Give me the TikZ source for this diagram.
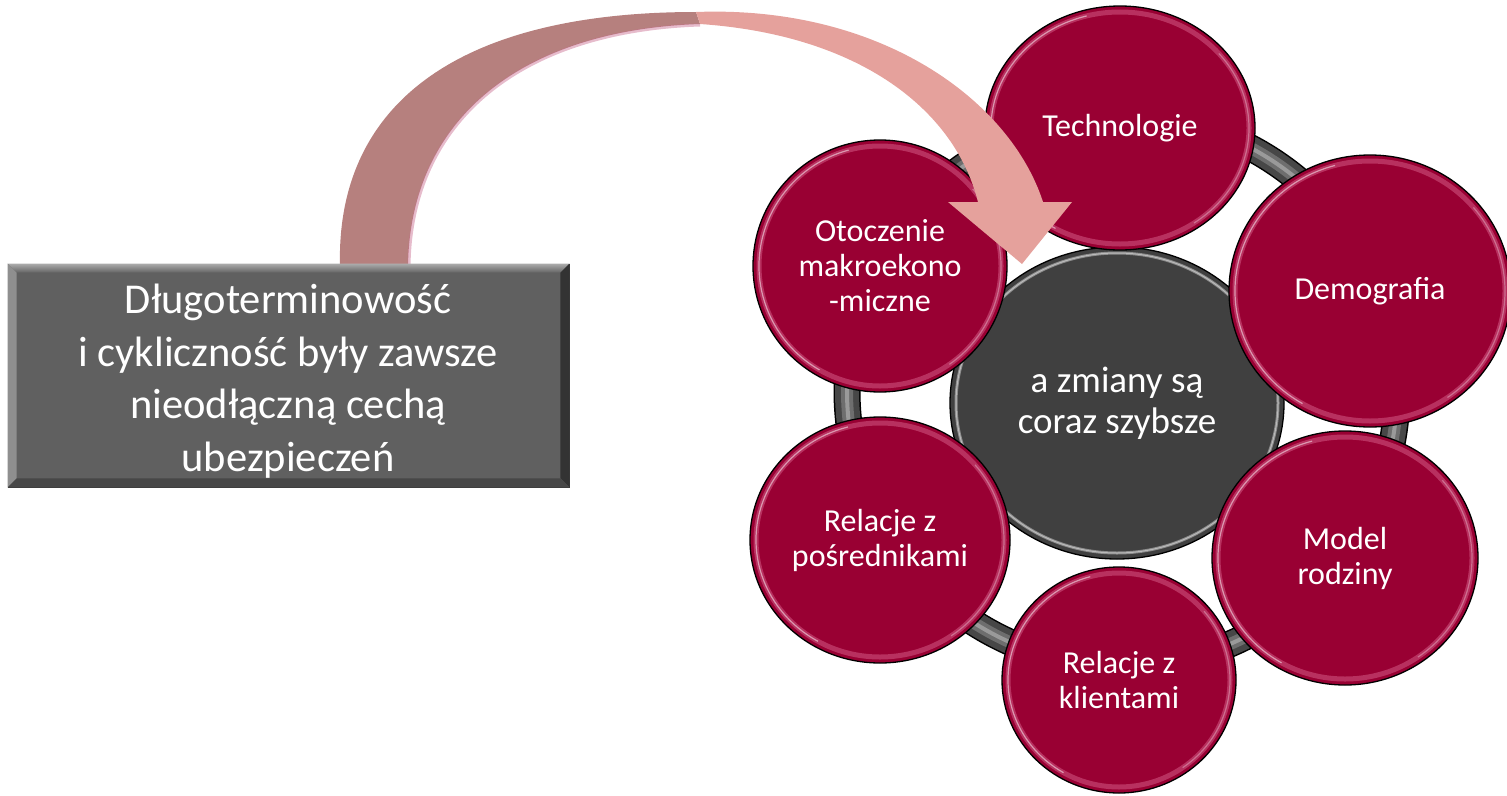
\documentclass[tikz,border=0pt]{standalone}
\usepackage{fontspec}
\setmainfont{Carlito}
\usetikzlibrary{shapes.geometric}
\definecolor{crim}{HTML}{990033}
\definecolor{hubgray}{HTML}{404040}
\definecolor{rimpink}{HTML}{E87AA3}
\definecolor{ringdark}{HTML}{474747}
\definecolor{ringmid}{HTML}{6E6E6E}
\definecolor{ringlight}{HTML}{9A9A9A}
\definecolor{boxgray}{HTML}{606060}
\definecolor{boxedge}{HTML}{3A3A3A}
\definecolor{banddark}{HTML}{B6807E}
\definecolor{bandlight}{HTML}{E5A19C}
\definecolor{bandglow}{HTML}{C86A8E}
\newcommand\myrims[3]{%
  \draw[rimglow] (#1.center) ellipse [x radius=#2pt, y radius=#3pt];
  \draw[rimshine] (#1.center) ++(105:#2pt and #3pt) arc[start angle=105, end angle=240, x radius=#2pt, y radius=#3pt];
  \draw[rimshine, opacity=.3] (#1.center) ++(-55:#2pt and #3pt) arc[start angle=-55, end angle=40, x radius=#2pt, y radius=#3pt];
}
\begin{document}
\begin{tikzpicture}[x=1pt,y=-1pt,
  bubble/.style={ellipse, draw=black, line width=1.3pt, fill=crim, text=white,
    align=center, inner sep=0pt, font=\fontsize{32}{35}\selectfont},
  hub/.style={ellipse, draw=black, line width=1.3pt, fill=hubgray, text=white,
    align=center, inner sep=0pt, font=\fontsize{37}{40.5}\selectfont},
  rimglow/.style={draw=rimpink, line width=5pt, opacity=0.4},
  rimshine/.style={draw=white, line width=1.2pt, opacity=0.5},
  boxtext/.style={text=white, align=center, inner sep=0pt, font=\fontsize{42.5}{52.5}\selectfont},
]
\useasboundingbox (0,0) rectangle (1507,795);

% ring behind the circles
\coordinate (rc) at (1122,391);
\draw[line width=27pt, black] (rc) circle[radius=275pt];
\draw[line width=24pt, ringdark] (rc) circle[radius=275pt];
\draw[line width=12pt, ringmid] (rc) circle[radius=275pt];
\draw[line width=4pt, ringlight] (rc) circle[radius=275pt];

% central circle
\node[hub, minimum width=334pt, minimum height=312pt] (hub) at (1117,403) {a zmiany są\\coraz szybsze};
\draw[draw=gray!75, line width=3pt, opacity=.8] (hub.center) ellipse [x radius=161pt, y radius=150pt];
\draw[draw=white, line width=1pt, opacity=.4] (hub.center) ellipse [x radius=161pt, y radius=150pt];

% outer circles
\node[bubble, minimum width=270pt, minimum height=244pt] (tech) at (1120,128) {Technologie};
\myrims{tech}{129}{116}
\node[bubble, minimum width=282pt, minimum height=272pt] (demo) at (1370,291) {Demografia};
\myrims{demo}{135}{130}
\node[bubble, minimum width=266pt, minimum height=254pt] (model) at (1345,558) {Model\\rodziny};
\myrims{model}{127}{121}
\node[bubble, minimum width=234pt, minimum height=226pt] (klient) at (1119,680) {Relacje z\\klientami};
\myrims{klient}{111}{107}
\node[bubble, minimum width=260pt, minimum height=246pt] (posr) at (880,540) {Relacje z\\pośrednikami};
\myrims{posr}{124}{117}
\node[bubble, minimum width=254pt, minimum height=252pt] (makro) at (880,266) {Otoczenie\\makroekono\\-miczne};
\myrims{makro}{121}{120}

% curved arrow
\fill[banddark] (340,266) .. controls (336,110) and (450,12) .. (696,12)
  -- (700,24) .. controls (520,30) and (410,120) .. (408,266) -- cycle;
\draw[bandglow, line width=3pt, opacity=.45] (700,25) .. controls (520,31) and (411,121) .. (409,266);
\fill[bandlight] (696,12) .. controls (880,5) and (1010,100) .. (1043,202)
  -- (1072,202) -- (1022,264) -- (948,202) -- (978,202)
  .. controls (955,110) and (860,35) .. (700,24) -- cycle;

% left box with bevel
\node[draw=boxedge, line width=0.8pt, fill=boxgray, minimum width=561pt, minimum height=223pt, inner sep=0pt] (src) at (288.5,375.5) {};
\shade[top color=gray!65, bottom color=gray!95!white!75!black] (src.north west) -- (src.north east)
  -- ([shift={(-9pt,-9pt)}]src.north east) -- ([shift={(9pt,-9pt)}]src.north west) -- cycle;
\fill[gray!90!black!80] (src.north west) -- ([shift={(9pt,-9pt)}]src.north west)
  -- ([shift={(9pt,9pt)}]src.south west) -- (src.south west) -- cycle;
\fill[black!80] (src.north east) -- ([shift={(-9pt,-9pt)}]src.north east)
  -- ([shift={(-9pt,9pt)}]src.south east) -- (src.south east) -- cycle;
\fill[black!72] (src.south west) -- ([shift={(9pt,9pt)}]src.south west)
  -- ([shift={(-9pt,9pt)}]src.south east) -- (src.south east) -- cycle;
\node[boxtext] (srctext) at (288,381) {Długoterminowość\\ i cykliczność były zawsze\\ nieodłączną cechą\\ ubezpieczeń};
\end{tikzpicture}
\end{document}
